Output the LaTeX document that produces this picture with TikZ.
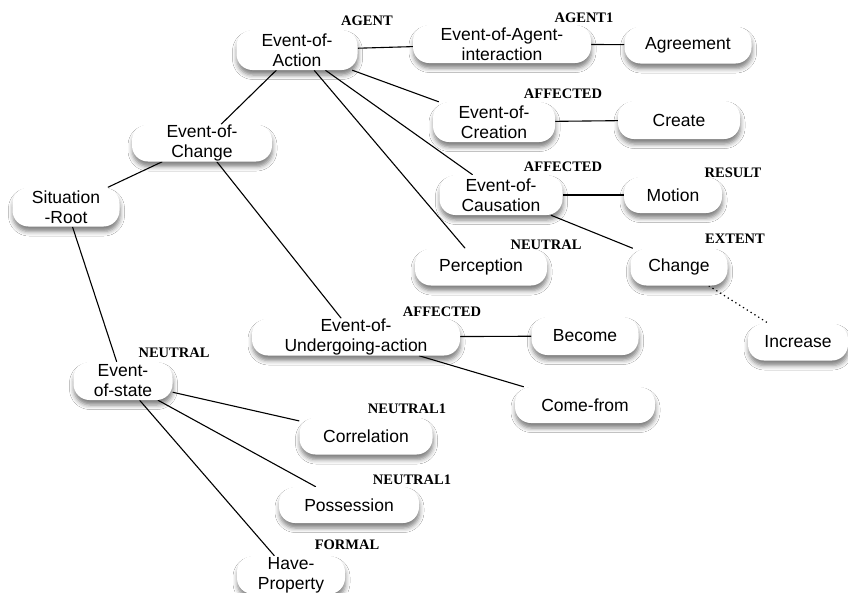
\documentclass[tikz,border=0pt]{standalone}
\usepackage{fontspec}
\setmainfont{Liberation Sans}
\newfontfamily\rolefont{Liberation Serif}
\usetikzlibrary{shadows.blur,backgrounds}

\tikzset{
  concept/.style={
    rectangle, rounded corners=16pt, fill=white, inner sep=0pt,
    minimum height=38pt, align=center,
    font=\fontsize{17.5}{20}\selectfont,
    blur shadow={shadow xshift=0.5pt, shadow yshift=-5pt,
                 shadow blur radius=4.5pt, shadow opacity=50}
  },
  role/.style={font=\rolefont\bfseries\fontsize{14.5}{16}\selectfont, inner sep=0pt},
  link/.style={line width=1.1pt, black},
  weaklink/.style={line width=1.2pt, black, dash pattern=on 1.3pt off 3.2pt}
}

\begin{document}
\begin{tikzpicture}[x=1pt, y=-1pt]
\useasboundingbox (0,0) rectangle (848,592);

% concept nodes
\node[concept, minimum width=121pt, minimum height=40pt] (act) at (297,50) {Event-of-\\Action};
\node[concept, minimum width=178pt] (agi) at (502,44) {Event-of-Agent-\\interaction};
\node[concept, minimum width=127pt, minimum height=37pt] (agr) at (688,45) {Agreement};
\node[concept, minimum width=122pt, minimum height=40pt] (cre) at (494,122) {Event-of-\\Creation};
\node[concept, minimum width=122pt] (crt) at (679,120) {Create};
\node[concept, minimum width=123pt, minimum height=40pt] (cau) at (501,195) {Event-of-\\Causation};
\node[concept, minimum width=98pt, minimum height=36pt] (mot) at (673,195) {Motion};
\node[concept, minimum width=97pt, minimum height=37pt] (chg) at (679,267) {Change};
\node[concept, minimum width=100pt, minimum height=37pt] (inc) at (798,342) {Increase};
\node[concept, minimum width=132pt, minimum height=37pt] (per) at (481,267) {Perception};
\node[concept, minimum width=208pt, minimum height=37pt] (und) at (356,337) {Event-of-\\Undergoing-action};
\node[concept, minimum width=107pt] (bec) at (585,336) {Become};
\node[concept, minimum width=140pt, minimum height=36pt] (cfr) at (585,405) {Come-from};
\node[concept, minimum width=140pt, minimum height=37pt] (eoc) at (202,143) {Event-of-\\Change};
\node[concept, minimum width=107pt, minimum height=39pt] (sit) at (66,207) {Situation\\-Root};
\node[concept, minimum width=99pt] (sta) at (123,381) {Event-\\of-state};
\node[concept, minimum width=133pt, minimum height=37pt] (cor) at (366,436) {Correlation};
\node[concept, minimum width=140pt, minimum height=36pt] (pos) at (349,505) {Possession};
\node[concept, minimum width=108pt] (hav) at (291,575) {Have-\\Property};

% role labels
\node[role] (lagent)  at (367,21)  {AGENT};
\node[role] (lagent1) at (584,18)  {AGENT1};
\node[role] (laff1)   at (563,94)  {AFFECTED};
\node[role] (laff2)   at (563,167) {AFFECTED};
\node[role] (lres)    at (733,173) {RESULT};
\node[role] (lext)    at (735,239) {EXTENT};
\node[role] (lneu1)   at (546,245) {NEUTRAL};
\node[role] (laff3)   at (442,312) {AFFECTED};
\node[role] (lneu2)   at (174,353) {NEUTRAL};
\node[role] (lneu3)   at (407,409) {NEUTRAL1};
\node[role] (lneu4)   at (412,480) {NEUTRAL1};
\node[role] (lform)   at (347,545) {FORMAL};

% connectors, kept behind the concept boxes
\begin{pgfonlayer}{background}
\fill[white] (0,0) rectangle (848,592);
\draw[link] (act) -- (agi);
\draw[link] (agi) -- (agr);
\draw[link] (act) -- (cre);
\draw[link] (cre) -- (crt);
\draw[link] (act) -- (cau);
\draw[link] (cau) -- (mot);
\draw[link] (cau) -- (chg);
\draw[weaklink] (chg) -- (inc);
\draw[link] (act) -- (per);
\draw[link] (act) -- (eoc);
\draw[link] (eoc) -- (sit);
\draw[link] (eoc) -- (und);
\draw[link] (und) -- (bec);
\draw[link] (und) -- (cfr);
\draw[link] (sit) -- (sta);
\draw[link] (sta) -- (cor);
\draw[link] (sta) -- (pos);
\draw[link] (sta) -- (hav);
\end{pgfonlayer}
\end{tikzpicture}
\end{document}
